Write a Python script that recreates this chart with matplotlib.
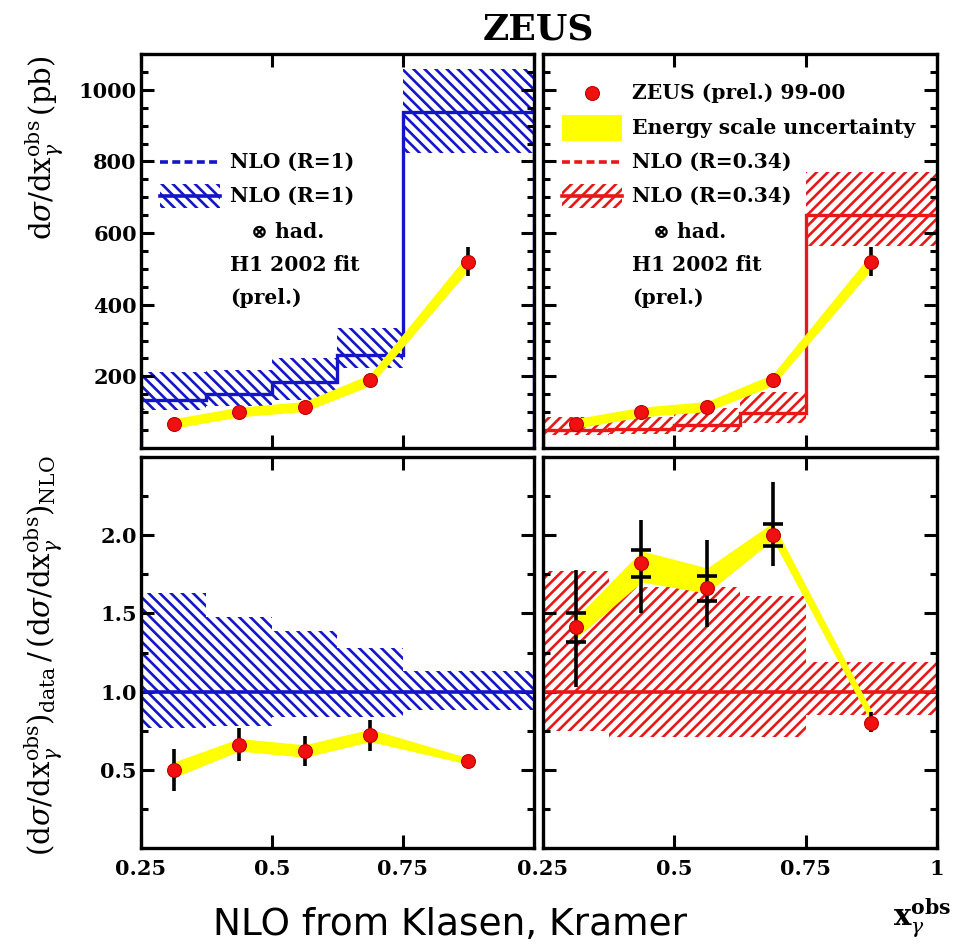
import numpy as np
import matplotlib
matplotlib.use('Agg')
import matplotlib.pyplot as plt
from matplotlib.patches import Rectangle
from matplotlib.ticker import MultipleLocator, FixedLocator, NullLocator

plt.rcParams['font.family'] = ['DejaVu Serif', 'DejaVu Sans']
plt.rcParams['mathtext.fontset'] = 'dejavuserif'
plt.rcParams['hatch.linewidth'] = 1.9

BLUE = '#1414c8'
RED = '#e81818'
YELLOW = '#ffff00'
PT_RED = '#f01010'

# ── Data ─────────────────────────────────────────────────────────────────────
x_edges = [0.25, 0.375, 0.5, 0.625, 0.75, 1.0]
x_pts = [0.3125, 0.4375, 0.5625, 0.6875, 0.875]

# top panels: cross section (pb)
zeus_xsec = [68, 100, 115, 190, 520]
zeus_xsec_err = [8, 10, 12, 15, 40]
escale_lo = [55, 87, 102, 174, 497]
escale_hi = [82, 114, 130, 206, 543]

nlo_r1 = [134, 150, 183, 260, 937]
nlo_r1_lo = [106, 118, 135, 224, 825]
nlo_r1_hi = [213, 218, 252, 336, 1057]

nlo_r034 = [50, 52, 65, 97, 650]
nlo_r034_lo = [37, 38, 46, 70, 565]
nlo_r034_hi = [87, 87, 112, 155, 770]

# bottom panels: data / NLO
ratio_r1 = [0.50, 0.66, 0.62, 0.72, 0.555]
ratio_r1_err = [0.135, 0.105, 0.095, 0.10, 0.025]
ratio_r1_es_lo = [0.45, 0.62, 0.58, 0.68, 0.535]
ratio_r1_es_hi = [0.55, 0.70, 0.66, 0.76, 0.575]
band_r1 = [1.0, 1.0, 1.0, 1.0, 1.0]
band_r1_lo = [0.77, 0.78, 0.835, 0.835, 0.885]
band_r1_hi = [1.63, 1.48, 1.39, 1.28, 1.13]

ratio_r034 = [1.41, 1.82, 1.66, 2.00, 0.80]
ratio_r034_err_dn = [0.38, 0.32, 0.25, 0.20, 0.06]
ratio_r034_err_up = [0.37, 0.28, 0.31, 0.34, 0.07]
ratio_r034_stat = [0.09, 0.085, 0.08, 0.07, 0.0]
ratio_r034_es_lo = [1.34, 1.70, 1.63, 1.97, 0.80]
ratio_r034_es_hi = [1.47, 1.90, 1.79, 2.08, 0.88]
band_r034 = [1.0, 1.0, 1.0, 1.0, 1.0]
band_r034_lo = [0.75, 0.71, 0.71, 0.71, 0.85]
band_r034_hi = [1.77, 1.67, 1.67, 1.61, 1.19]


# ── Figure / axes layout ────────────────────────────────────────────────────
W, H = 954, 950
fig = plt.figure(figsize=(W / 100, H / 100), dpi=100)
fig.patch.set_facecolor('white')


def px_axes(x0, y0, x1, y1):
    return fig.add_axes([x0 / W, 1 - y1 / H, (x1 - x0) / W, (y1 - y0) / H])


ax_tl = px_axes(141, 54, 534, 448)
ax_tr = px_axes(543, 54, 937, 448)
ax_bl = px_axes(141, 457, 534, 848)
ax_br = px_axes(543, 457, 937, 848)


def style(ax, top, ylabels, xlabels):
    ax.set_xlim(0.25, 1.0)
    if top:
        ax.set_ylim(0, 1100)
        ax.yaxis.set_major_locator(FixedLocator([200, 400, 600, 800, 1000]))
        ax.yaxis.set_minor_locator(MultipleLocator(50))
    else:
        ax.set_ylim(0, 2.5)
        ax.yaxis.set_major_locator(FixedLocator([0.5, 1.0, 1.5, 2.0]))
        ax.yaxis.set_minor_locator(MultipleLocator(0.25))
        ax.yaxis.set_major_formatter(plt.FuncFormatter(lambda v, p: f'{v:.1f}'))
    if xlabels == 'left':
        ax.xaxis.set_major_locator(FixedLocator([0.25, 0.5, 0.75]))
        ax.set_xticklabels(['0.25', '0.5', '0.75'])
    else:
        ax.xaxis.set_major_locator(FixedLocator([0.25, 0.5, 0.75, 1.0]))
        ax.set_xticklabels(['0.25', '0.5', '0.75', '1'])
    ax.xaxis.set_minor_locator(NullLocator())
    ax.tick_params(which='both', direction='in', top=True, right=True,
                   width=2.2, color='black')
    ax.tick_params(which='major', length=9.5)
    ax.tick_params(which='minor', length=5)
    ax.tick_params(axis='y', labelsize=15, pad=3, labelleft=ylabels)
    ax.tick_params(axis='x', labelsize=15, pad=8, labelbottom=xlabels is not None)
    for lab in ax.get_xticklabels() + ax.get_yticklabels():
        lab.set_fontweight('bold')
    for s in ax.spines.values():
        s.set_linewidth(2.4)
        s.set_zorder(10)


def draw_top(ax, nlo, lo, hi, color, hatch):
    ax.stairs(hi, x_edges, baseline=lo, fill=True, facecolor='none',
              edgecolor=color, hatch=hatch, linewidth=0, zorder=1)
    ax.stairs(nlo, x_edges, baseline=0, color=color, linewidth=2.4, zorder=2)
    ax.fill_between(x_pts, escale_lo, escale_hi, color=YELLOW, lw=0, zorder=3)
    ax.errorbar(x_pts, zeus_xsec, yerr=zeus_xsec_err, fmt='none', ecolor='black',
                elinewidth=2.6, capsize=0, zorder=4)
    ax.plot(x_pts, zeus_xsec, 'o', ms=10, color=PT_RED, mec='#c00000', mew=0.8,
            zorder=5)


draw_top(ax_tl, nlo_r1, nlo_r1_lo, nlo_r1_hi, BLUE, '\\\\\\')
draw_top(ax_tr, nlo_r034, nlo_r034_lo, nlo_r034_hi, RED, '///')

# bottom left ratio
ax_bl.stairs(band_r1_hi, x_edges, baseline=band_r1_lo, fill=True, facecolor='none',
             edgecolor=BLUE, hatch='\\\\\\', linewidth=0, zorder=1)
ax_bl.stairs(band_r1, x_edges, baseline=None, color=BLUE, linewidth=2.6, zorder=2)
ax_bl.fill_between(x_pts, ratio_r1_es_lo, ratio_r1_es_hi, color=YELLOW, lw=0, zorder=3)
ax_bl.errorbar(x_pts, ratio_r1, yerr=ratio_r1_err, fmt='none', ecolor='black',
               elinewidth=2.6, capsize=0, zorder=4)
ax_bl.plot(x_pts, ratio_r1, 'o', ms=10, color=PT_RED, mec='#c00000', mew=0.8, zorder=5)

# bottom right ratio
ax_br.stairs(band_r034_hi, x_edges, baseline=band_r034_lo, fill=True, facecolor='none',
             edgecolor=RED, hatch='///', linewidth=0, zorder=1)
ax_br.stairs(band_r034, x_edges, baseline=None, color=RED, linewidth=2.6, zorder=2)
ax_br.fill_between(x_pts, ratio_r034_es_lo, ratio_r034_es_hi, color=YELLOW, lw=0, zorder=3)
ax_br.errorbar(x_pts, ratio_r034, yerr=[ratio_r034_err_dn, ratio_r034_err_up],
               fmt='none', ecolor='black', elinewidth=2.6, capsize=0, zorder=4)
ax_br.errorbar(x_pts[:4], ratio_r034[:4], yerr=ratio_r034_stat[:4], fmt='none',
               ecolor='black', elinewidth=0, capsize=7, capthick=2.6, zorder=4)
ax_br.plot(x_pts, ratio_r034, 'o', ms=10, color=PT_RED, mec='#c00000', mew=0.8, zorder=5)

style(ax_tl, True, True, None)
style(ax_tr, True, False, None)
style(ax_bl, False, True, 'left')
style(ax_br, False, False, 'right')


# ── Legends (drawn by hand in axes coordinates) ──────────────────────────────
FS = 14.6
x_h0, x_h1, x_txt, x_had = 0.048, 0.201, 0.226, 0.28
rows = [0.901, 0.812, 0.726, 0.640, 0.548, 0.464, 0.381]


def legend_text(ax, x, y, s):
    ax.text(x, y, s, transform=ax.transAxes, fontsize=FS, fontweight='bold',
            va='center', ha='left', zorder=12)


def legend_lines(ax, color, hatch, label, y_dash, y_hatch):
    ax.plot([x_h0, x_h1], [y_dash, y_dash], transform=ax.transAxes, color=color,
            lw=2.6, ls=(0, (2.2, 1.2)), clip_on=False, zorder=12)
    legend_text(ax, x_txt, y_dash, label)
    ax.add_patch(Rectangle((x_h0, y_hatch - 0.03), x_h1 - x_h0, 0.06,
                           transform=ax.transAxes, facecolor='white', edgecolor=color,
                           hatch=hatch, lw=0, zorder=11))
    ax.plot([x_h0, x_h1], [y_hatch, y_hatch], transform=ax.transAxes, color=color,
            lw=2.6, zorder=12)
    legend_text(ax, x_txt, y_hatch, label)
    legend_text(ax, x_had, rows[4], '\u2297 had.')
    legend_text(ax, x_txt, rows[5], 'H1 2002 fit')
    legend_text(ax, x_txt, rows[6], '(prel.)')


legend_lines(ax_tl, BLUE, '\\\\\\', 'NLO (R=1)', rows[2], rows[3])
legend_lines(ax_tr, RED, '///', 'NLO (R=0.34)', rows[2], rows[3])

xm = (x_h0 + x_h1) / 2
ax_tr.plot([xm], [rows[0]], 'o', ms=10, color=PT_RED, mec='#c00000', mew=0.8,
           transform=ax_tr.transAxes, zorder=12)
legend_text(ax_tr, x_txt, rows[0], 'ZEUS (prel.) 99-00')
ax_tr.add_patch(Rectangle((x_h0, rows[1] - 0.032), x_h1 - x_h0, 0.064,
                          transform=ax_tr.transAxes, facecolor=YELLOW, lw=0, zorder=11))
legend_text(ax_tr, x_txt, rows[1], 'Energy scale uncertainty')


# ── Titles and axis labels ──────────────────────────────────────────────────
fig.text(538 / W, 1 - 30 / H, 'ZEUS', ha='center', va='center', fontsize=26,
         fontweight='bold')
fig.text(45 / W, 1 - 148 / H,
         r'$\mathrm{d}\sigma/\mathrm{dx}_{\gamma}^{\mathrm{obs}}\,\mathrm{(pb)}$',
         rotation=90, ha='center', va='center', fontsize=21)
fig.text(44 / W, 1 - 656 / H,
         r'$(\mathrm{d}\sigma/\mathrm{dx}_{\gamma}^{\mathrm{obs}})_{\mathrm{data}}'
         r'\,/\,(\mathrm{d}\sigma/\mathrm{dx}_{\gamma}^{\mathrm{obs}})_{\mathrm{NLO}}$',
         rotation=90, ha='center', va='center', fontsize=21)
fig.text(951 / W, 1 - 918 / H, r'$\mathbf{x}_{\gamma}^{\mathbf{obs}}$',
         ha='right', va='center', fontsize=21)
fig.text(450 / W, 1 - 925 / H, 'NLO from Klasen, Kramer', ha='center', va='center',
         fontsize=27, family='DejaVu Sans')

fig.savefig('out.png', dpi=100, facecolor='white')
